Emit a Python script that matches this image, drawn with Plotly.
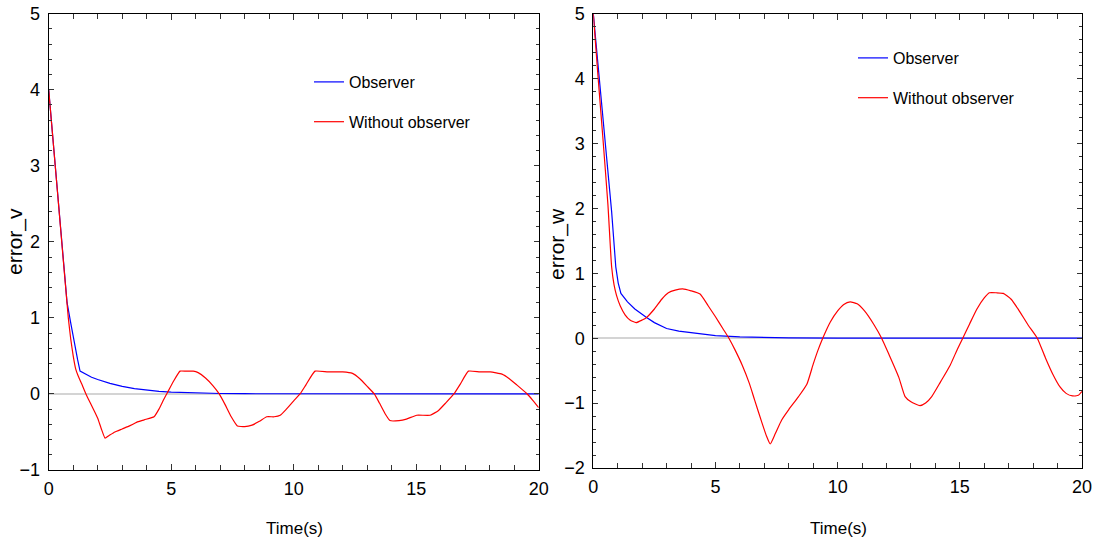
import plotly.graph_objects as go

# ---------------- data ----------------
t_v_obs = [0, 0.4, 0.75, 0.9, 1.05, 1.18, 1.28, 1.4, 1.55, 1.75, 2.0, 2.25, 2.5, 2.75, 3.0,
           3.5, 4.0, 4.5, 5.0, 6.0, 7.0, 8.0, 10.0, 12.0, 20.0]
v_obs = [4.0, 2.5, 1.2, 0.93, 0.65, 0.45, 0.30, 0.28, 0.255, 0.22, 0.19, 0.163, 0.14, 0.12,
         0.10, 0.07, 0.05, 0.035, 0.025, 0.012, 0.006, 0.003, 0.001, 0.0, 0.0]

t_v_wo = [0, 0.4, 0.8, 0.9, 1.0, 1.1, 1.2, 1.35, 1.52, 1.7, 1.9, 2.0, 2.15, 2.3, 2.45, 2.7,
          3.0, 3.3, 3.55, 3.6, 3.9, 4.3, 4.5, 4.7, 4.85, 5.1, 5.36, 5.6, 5.9, 6.1, 6.4, 6.7,
          6.96, 7.2, 7.45, 7.7, 8.0, 8.3, 8.6, 8.9, 9.2, 9.45, 9.7, 10.0, 10.26, 10.5, 10.87,
          11.4, 12.0, 12.4, 12.7, 13.0, 13.29, 13.5, 13.75, 13.93, 14.3, 14.6, 15.02, 15.57,
          15.9, 16.2, 16.54, 16.8, 17.13, 17.6, 18.02, 18.5, 18.8, 19.1, 19.53, 19.75, 20.0]
v_wo = [4.0, 2.5, 1.0, 0.72, 0.5, 0.33, 0.24, 0.13, 0.0, -0.12, -0.25, -0.32, -0.46, -0.58,
        -0.55, -0.50, -0.46, -0.42, -0.38, -0.37, -0.34, -0.30, -0.2, -0.07, 0.02, 0.17, 0.30,
        0.30, 0.30, 0.28, 0.21, 0.11, 0.0, -0.14, -0.30, -0.42, -0.43, -0.41, -0.36, -0.30,
        -0.30, -0.28, -0.20, -0.09, 0.0, 0.12, 0.30, 0.29, 0.29, 0.27, 0.20, 0.10, 0.0, -0.12,
        -0.27, -0.35, -0.35, -0.33, -0.28, -0.28, -0.22, -0.12, 0.0, 0.13, 0.30, 0.29, 0.29,
        0.26, 0.20, 0.12, 0.0, -0.08, -0.18]

t_w_obs = [0, 0.25, 0.5, 0.75, 0.92, 1.02, 1.13, 1.4, 1.7, 2.0, 2.18, 2.5, 3.0, 3.5, 4.0,
           4.5, 5.0, 6.0, 7.0, 8.0, 10.0, 12.0, 20.0]
w_obs = [5.0, 3.95, 2.9, 1.95, 1.1, 0.85, 0.69, 0.56, 0.45, 0.36, 0.32, 0.24, 0.15, 0.11,
         0.085, 0.06, 0.04, 0.02, 0.01, 0.005, 0.001, 0.0, 0.0]

t_w_wo = [0, 0.2, 0.4, 0.6, 0.75, 0.85, 0.95, 1.1, 1.3, 1.5, 1.75, 2.0, 2.18, 2.5, 2.8, 3.07,
          3.35, 3.66, 4.0, 4.37, 4.7, 5.0, 5.3, 5.55, 5.8, 6.1, 6.39, 6.6, 6.9, 7.1, 7.24, 7.45,
          7.71, 8.0, 8.4, 8.74, 9.0, 9.2, 9.39, 9.7, 10.0, 10.25, 10.51, 10.8, 11.1, 11.5, 11.8,
          12.1, 12.5, 12.76, 13.0, 13.37, 13.6, 13.85, 14.2, 14.6, 14.9, 15.12, 15.4, 15.7, 16.0,
          16.21, 16.5, 16.78, 17.1, 17.4, 17.8, 18.17, 18.5, 18.8, 19.1, 19.35, 19.61, 19.85, 20.0]
w_wo = [5.0, 4.0, 3.05, 2.05, 1.1, 0.82, 0.66, 0.5, 0.36, 0.28, 0.24, 0.28, 0.32, 0.45, 0.6,
        0.7, 0.74, 0.76, 0.73, 0.68, 0.5, 0.33, 0.15, 0.0, -0.18, -0.42, -0.7, -0.95, -1.3,
        -1.52, -1.63, -1.47, -1.26, -1.1, -0.9, -0.71, -0.4, -0.18, 0.0, 0.25, 0.42, 0.52, 0.56,
        0.53, 0.42, 0.2, 0.0, -0.25, -0.6, -0.9, -0.98, -1.04, -1.0, -0.9, -0.68, -0.42, -0.17,
        0.0, 0.22, 0.45, 0.62, 0.7, 0.7, 0.69, 0.6, 0.44, 0.2, 0.0, -0.3, -0.55, -0.75, -0.85,
        -0.89, -0.88, -0.82]

series_names = ["Observer", "Without observer"]
x_title = "Time(s)"
y_titles = ["error_v", "error_w"]
x_range = [0, 20]
y_ranges = [[-1, 5], [-2, 5]]

# ---------------- figure ----------------
W, H = 1094, 545
SANS = "Liberation Sans, Arial, sans-serif"
BLUE = "#0000ff"
RED = "#ff0000"
TICKC = "#333333"


def px_x(p):
    return p / W


def px_y(p):
    return 1 - p / H


fig = go.Figure()
fig.add_trace(go.Scatter(x=t_v_obs, y=v_obs, mode="lines", name=series_names[0],
                         line=dict(color=BLUE, width=1.2), xaxis="x", yaxis="y",
                         legend="legend", legendgroup="a"))
fig.add_trace(go.Scatter(x=t_v_wo, y=v_wo, mode="lines", name=series_names[1],
                         line=dict(color=RED, width=1.2, shape="spline", smoothing=0.4),
                         xaxis="x", yaxis="y", legend="legend", legendgroup="b"))
fig.add_trace(go.Scatter(x=t_w_obs, y=w_obs, mode="lines", name=series_names[0],
                         line=dict(color=BLUE, width=1.2), xaxis="x2", yaxis="y2",
                         legend="legend2", legendgroup="c"))
fig.add_trace(go.Scatter(x=t_w_wo, y=w_wo, mode="lines", name=series_names[1],
                         line=dict(color=RED, width=1.2, shape="spline", smoothing=0.5),
                         xaxis="x2", yaxis="y2", legend="legend2", legendgroup="d"))
# empty carriers for the mirrored (top / right) tick axes
for xa, ya in (("x3", "y3"), ("x4", "y4")):
    fig.add_trace(go.Scatter(x=[], y=[], mode="lines", xaxis=xa, yaxis=ya,
                             showlegend=False, hoverinfo="skip"))

tickfont = dict(family=SANS, size=18, color="black")
base_x = dict(range=x_range, tick0=0, dtick=5, ticks="inside", ticklen=6, tickcolor=TICKC,
              showgrid=False, zeroline=False, automargin=False,
              minor=dict(dtick=1, ticks="inside", ticklen=5, tickcolor=TICKC, showgrid=False))
base_y = dict(dtick=1, ticks="inside", ticklen=5, tickcolor=TICKC,
              showgrid=False, automargin=False,
              minor=dict(dtick=0.2, ticks="inside", ticklen=3, tickcolor=TICKC, showgrid=False))

dom_x1 = [px_x(48.7), px_x(538.7)]
dom_x2 = [px_x(593.3), px_x(1082)]
dom_y1 = [px_y(470), px_y(13.7)]
dom_y2 = [px_y(468), px_y(13.7)]

fig.update_layout(
    width=W, height=H,
    margin=dict(l=0, r=0, t=0, b=0),
    paper_bgcolor="white", plot_bgcolor="white",
    xaxis=dict(domain=dom_x1, anchor="y", showline=True, linecolor="black", linewidth=1,
               mirror=True, ticklabelstandoff=2, tickfont=tickfont, **base_x),
    yaxis=dict(domain=dom_y1, anchor="x", range=y_ranges[0], showline=True, linecolor="black",
               linewidth=1, mirror=True, zeroline=True, zerolinecolor="#d4d4d4",
               zerolinewidth=1.5, ticklabelstandoff=4, tickfont=tickfont, **base_y),
    xaxis2=dict(domain=dom_x2, anchor="y2", showline=True, linecolor="black", linewidth=1,
                mirror=True, ticklabelstandoff=2, tickfont=tickfont, **base_x),
    yaxis2=dict(domain=dom_y2, anchor="x2", range=y_ranges[1], showline=True,
                linecolor="black", linewidth=1, mirror=True, zeroline=True,
                zerolinecolor="#d4d4d4", zerolinewidth=1.5, ticklabelstandoff=4,
                tickfont=tickfont, **base_y),
    # mirrored tick axes (top and right), no labels
    xaxis3=dict(overlaying="x", side="top", anchor="y3", showticklabels=False,
                showline=False, **base_x),
    yaxis3=dict(overlaying="y", side="right", anchor="x3", range=y_ranges[0],
                showticklabels=False, showline=False, zeroline=False, **base_y),
    xaxis4=dict(overlaying="x2", side="top", anchor="y4", showticklabels=False,
                showline=False, **base_x),
    yaxis4=dict(overlaying="y2", side="right", anchor="x4", range=y_ranges[1],
                showticklabels=False, showline=False, zeroline=False, **base_y),
    legend=dict(x=px_x(309), y=px_y(65), xanchor="left", yanchor="top",
                bgcolor="rgba(0,0,0,0)", font=dict(family=SANS, size=16, color="black"),
                traceorder="grouped", tracegroupgap=16),
    legend2=dict(x=px_x(853), y=px_y(41), xanchor="left", yanchor="top",
                 bgcolor="rgba(0,0,0,0)", font=dict(family=SANS, size=16, color="black"),
                 traceorder="grouped", tracegroupgap=16),
    showlegend=True,
)

annots = [
    dict(text=y_titles[0], x=px_x(15), y=px_y(242), textangle=-90,
         font=dict(family=SANS, size=21, color="black")),
    dict(text=y_titles[1], x=px_x(557), y=px_y(244), textangle=-90,
         font=dict(family=SANS, size=21, color="black")),
    dict(text=x_title, x=px_x(294), y=px_y(528),
         font=dict(family=SANS, size=17, color="black")),
    dict(text=x_title, x=px_x(838), y=px_y(528),
         font=dict(family=SANS, size=17, color="black")),
]
for a in annots:
    a.update(xref="paper", yref="paper", xanchor="center", yanchor="middle", showarrow=False)
fig.update_layout(annotations=annots)

fig.write_html("out.html", config={"displayModeBar": False},
               post_script="document.body.style.margin='0';document.body.style.overflow='hidden';")
